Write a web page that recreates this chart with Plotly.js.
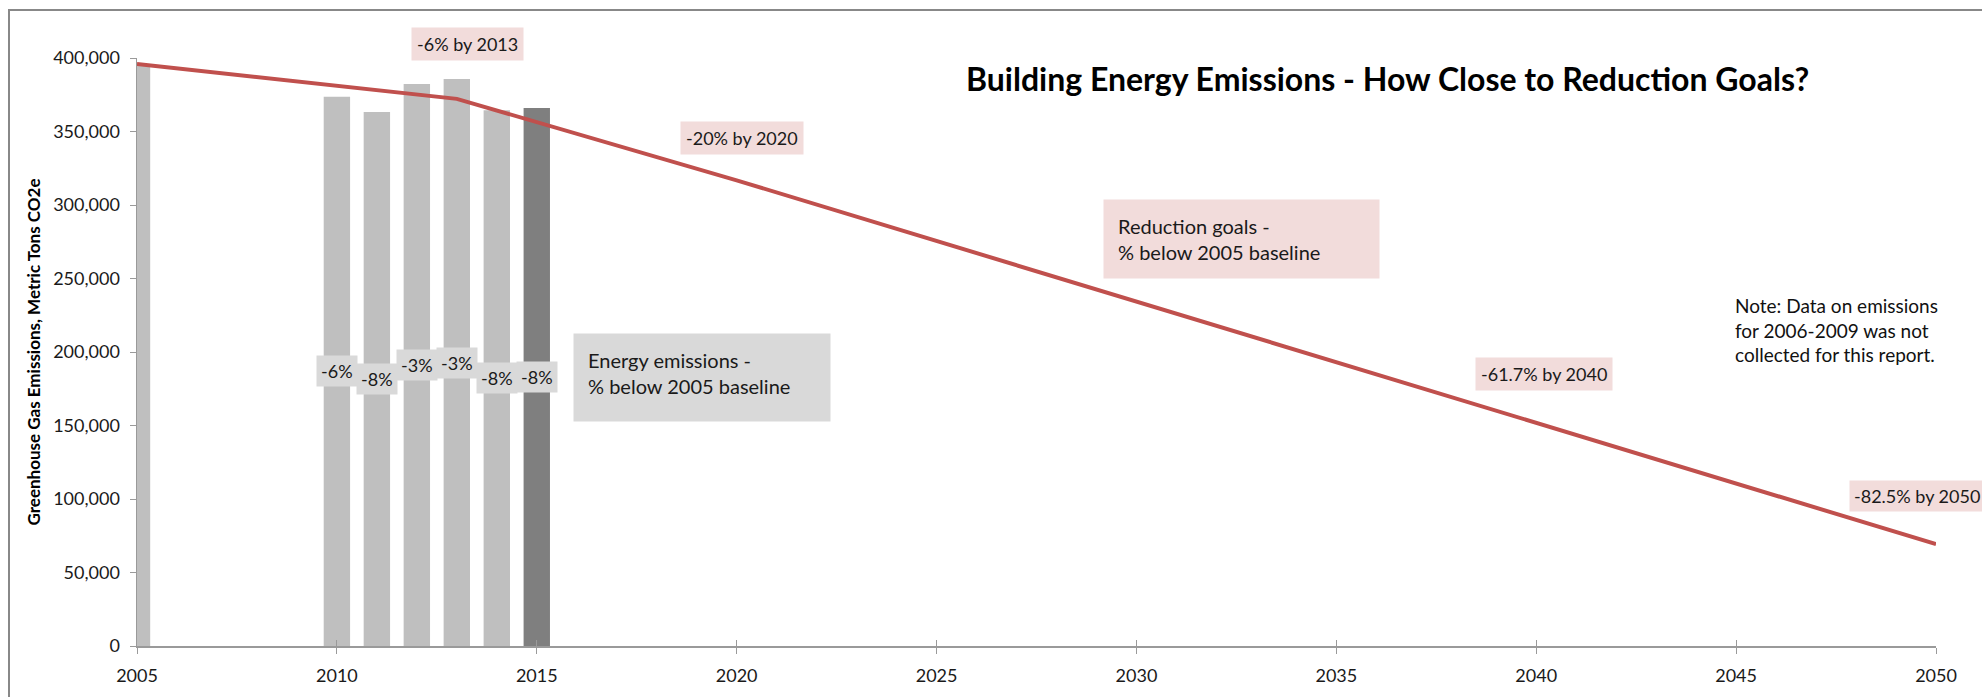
<!DOCTYPE html>
<html>
<head>
<meta charset="utf-8">
<script src="https://cdn.plot.ly/plotly-3.0.1.min.js"></script>
<style>
  html, body { margin: 0; padding: 0; background: #fff; }
  #chart { width: 1982px; height: 697px; }
</style>
</head>
<body>
<div id="chart"></div>
<script>
// ---- data ----
const barYears = [2005, 2010, 2011, 2012, 2013, 2014, 2015];
const barValues = [396000, 373700, 363300, 382300, 385700, 364400, 366000];
const barLabels = ["", "-6%", "-8%", "-3%", "-3%", "-8%", "-8%"];
const goalYears = [2005, 2013, 2020, 2040, 2050];
const goalValues = [396000, 372200, 316800, 151700, 69300];
const yTickValues = [0, 50000, 100000, 150000, 200000, 250000, 300000, 350000, 400000];
const xTickValues = [2005, 2010, 2015, 2020, 2025, 2030, 2035, 2040, 2045, 2050];

// ---- layout geometry ----
const W = 1982, H = 697;
const M = { l: 137, r: 46, t: 58, b: 51 };
const PW = W - M.l - M.r, PH = H - M.t - M.b;
const px = x => (x - M.l) / PW;
const py = y => (H - M.b - y) / PH;

const FONT = "Lato, 'Open Sans', sans-serif";
const LIGHT = "#BFBFBF", DARK = "#7F7F7F";
const RED = "#C0504D", PINK = "#F2DCDB", GREYBOX = "#D9D9D9";
const AXIS = "#9A9A9A";

const bars = {
  type: "bar",
  x: barYears,
  y: barValues,
  width: 0.66,
  marker: { color: barYears.map(y => y === 2015 ? DARK : LIGHT) },
  hoverinfo: "x+y",
  showlegend: false
};
const goalLine = {
  type: "scatter",
  mode: "lines",
  x: goalYears,
  y: goalValues,
  line: { color: RED, width: 4 },
  hoverinfo: "x+y",
  showlegend: false
};
const crossHelper = {
  type: "scatter",
  mode: "lines",
  x: goalYears,
  y: goalValues,
  xaxis: "x2",
  opacity: 0,
  hoverinfo: "skip",
  showlegend: false
};

const annotations = [];
barYears.forEach((yr, i) => {
  if (!barLabels[i]) return;
  annotations.push({
    xref: "x", yref: "y", x: yr, y: barValues[i] / 2,
    text: barLabels[i], showarrow: false,
    bgcolor: GREYBOX, borderpad: 4,
    font: { family: FONT, size: 18, color: "#1a1a1a" }
  });
});

function pinkLabel(text, cx, cy) {
  return {
    xref: "paper", yref: "paper", x: px(cx), y: py(cy),
    xanchor: "center", yanchor: "middle",
    text: text, showarrow: false, bgcolor: PINK, borderpad: 5,
    font: { family: FONT, size: 18, color: "#1a1a1a" }
  };
}
annotations.push(pinkLabel("-6% by 2013", 467, 44.5));
annotations.push(pinkLabel("-20% by 2020", 742, 138));
annotations.push(pinkLabel("-61.7% by 2040", 1544, 374));
annotations.push({
  xref: "paper", yref: "paper", x: px(1849), y: py(496),
  xanchor: "left", yanchor: "middle",
  text: "-82.5% by 2050", showarrow: false, bgcolor: PINK, borderpad: 4,
  font: { family: FONT, size: 18, color: "#1a1a1a" }
});
annotations.push({
  xref: "paper", yref: "paper", x: px(1103), y: py(199),
  xanchor: "left", yanchor: "top", align: "left", valign: "middle",
  width: 247, height: 50, borderpad: 14,
  text: "Reduction goals -<br>% below 2005 baseline", showarrow: false, bgcolor: PINK,
  font: { family: FONT, size: 20, color: "#1a1a1a" }
});
annotations.push({
  xref: "paper", yref: "paper", x: px(573), y: py(333),
  xanchor: "left", yanchor: "top", align: "left", valign: "top",
  width: 228, height: 59, borderpad: 14,
  text: "Energy emissions -<br>% below 2005 baseline", showarrow: false, bgcolor: GREYBOX,
  font: { family: FONT, size: 20, color: "#1a1a1a" }
});
annotations.push({
  xref: "paper", yref: "paper", x: px(1733), y: py(292),
  xanchor: "left", yanchor: "top", align: "left",
  text: "Note: Data on emissions<br>for 2006-2009 was not<br>collected for this report.",
  showarrow: false,
  font: { family: FONT, size: 19, color: "#111" }
});
annotations.push({
  xref: "paper", yref: "paper", x: px(1387), y: py(78),
  xanchor: "center", yanchor: "middle",
  text: "<b>Building Energy Emissions - How Close to Reduction Goals?</b>",
  showarrow: false,
  font: { family: FONT, size: 32, color: "#000" }
});

const layout = {
  width: W, height: H,
  margin: M,
  paper_bgcolor: "#fff",
  plot_bgcolor: "#fff",
  showlegend: false,
  bargap: 0.3,
  xaxis: {
    range: [2005, 2050],
    tickvals: xTickValues,
    ticktext: xTickValues.map(String),
    ticks: "outside", ticklen: 6, tickcolor: AXIS, tickwidth: 1,
    showline: true, linecolor: AXIS, linewidth: 2,
    showgrid: false, zeroline: false,
    tickfont: { family: FONT, size: 18, color: "#1a1a1a" },
    ticklabelstandoff: 6
  },
  xaxis2: {
    overlaying: "x", anchor: "y", side: "bottom",
    range: [2005, 2050],
    tickvals: xTickValues,
    ticks: "inside", ticklen: 6, tickcolor: AXIS, tickwidth: 1,
    showticklabels: false, showline: false, showgrid: false, zeroline: false
  },
  yaxis: {
    range: [0, 400000],
    tickvals: yTickValues,
    tickformat: ",d",
    ticks: "outside", ticklen: 6, tickcolor: AXIS, tickwidth: 1,
    showline: true, linecolor: AXIS, linewidth: 1.5,
    showgrid: false, zeroline: false,
    tickfont: { family: FONT, size: 18, color: "#1a1a1a" },
    ticklabelstandoff: 6,
    title: {
      text: "<b>Greenhouse Gas Emissions, Metric Tons CO2e</b>",
      font: { family: FONT, size: 17, color: "#000" },
      standoff: 8
    }
  },
  shapes: [{
    type: "rect", xref: "paper", yref: "paper", layer: "below",
    x0: px(9), x1: px(2100), y0: py(800), y1: py(10),
    line: { color: "#888", width: 2 }, fillcolor: "rgba(0,0,0,0)"
  }],
  annotations: annotations
};

Plotly.newPlot("chart", [bars, goalLine, crossHelper], layout, { displayModeBar: false, staticPlot: true });
</script>
</body>
</html>
